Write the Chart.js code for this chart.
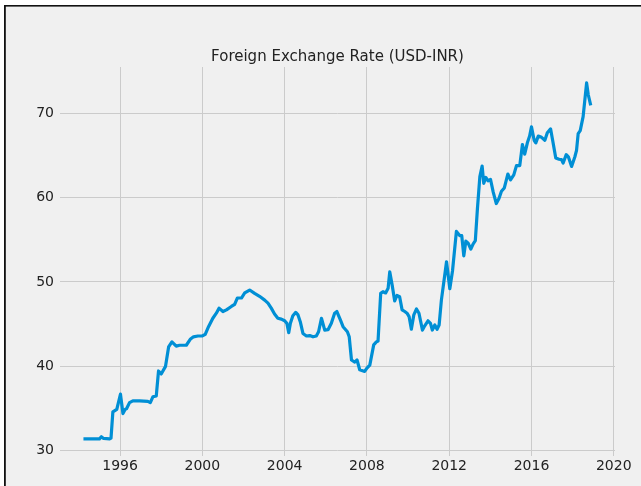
<!DOCTYPE html>
<html>
<head>
<meta charset="utf-8">
<script src="https://cdn.jsdelivr.net/npm/chart.js@4"></script>
<style>
  html, body { margin: 0; padding: 0; background: #ffffff; }
  #wrap { position: absolute; left: 0; top: 0; width: 641px; height: 486px; }
</style>
</head>
<body>
<div id="wrap"><canvas id="c" width="641" height="486"></canvas></div>
<script>
const chartTitle = "Foreign Exchange Rate (USD-INR)";

const years = [
  1994.22, 1994.61, 1995.00, 1995.09, 1995.20, 1995.49, 1995.56, 1995.65, 1995.84,
  1996.02, 1996.14, 1996.25, 1996.32, 1996.46, 1996.62, 1996.95, 1997.35, 1997.47,
  1997.60, 1997.76, 1997.87, 1998.00, 1998.21, 1998.36, 1998.52, 1998.73, 1998.89,
  1999.22, 1999.41, 1999.57, 1999.78, 2000.00, 2000.14, 2000.30, 2000.51, 2000.68,
  2000.81, 2001.00, 2001.17, 2001.41, 2001.57, 2001.70, 2001.90, 2002.06, 2002.30,
  2002.54, 2002.78, 2003.03, 2003.19, 2003.35, 2003.51, 2003.67, 2003.84, 2004.00,
  2004.11, 2004.20, 2004.28, 2004.40, 2004.54, 2004.65, 2004.76, 2004.89, 2005.06,
  2005.22, 2005.38, 2005.54, 2005.65, 2005.79, 2005.95, 2006.11, 2006.27, 2006.43,
  2006.54, 2006.71, 2006.84, 2007.05, 2007.14, 2007.25, 2007.41, 2007.52, 2007.65,
  2007.89, 2008.00, 2008.14, 2008.33, 2008.46, 2008.54, 2008.67, 2008.78, 2008.91,
  2009.03, 2009.11, 2009.24, 2009.35, 2009.46, 2009.59, 2009.71, 2009.84, 2009.95,
  2010.05, 2010.16, 2010.28, 2010.41, 2010.53, 2010.70, 2010.81, 2010.97, 2011.09,
  2011.18, 2011.30, 2011.41, 2011.51, 2011.62, 2011.75, 2011.87, 2012.03, 2012.16,
  2012.35, 2012.51, 2012.61, 2012.71, 2012.81, 2012.92, 2013.05, 2013.16, 2013.27,
  2013.37, 2013.49, 2013.60, 2013.68, 2013.78, 2013.89, 2014.01, 2014.14, 2014.29,
  2014.42, 2014.54, 2014.68, 2014.85, 2014.98, 2015.14, 2015.27, 2015.43, 2015.56,
  2015.67, 2015.80, 2015.91, 2016.00, 2016.13, 2016.21, 2016.33, 2016.49, 2016.65,
  2016.77, 2016.93, 2017.05, 2017.18, 2017.34, 2017.46, 2017.54, 2017.69, 2017.80,
  2017.95, 2018.11, 2018.19, 2018.27, 2018.37, 2018.51, 2018.68, 2018.76, 2018.88
];

const rates = [
  31.4, 31.4, 31.4, 31.65, 31.45, 31.4, 31.5, 34.6, 34.9,
  36.7, 34.4, 34.9, 35.0, 35.7, 35.9, 35.9, 35.85, 35.7,
  36.4, 36.5, 39.45, 39.1, 40.0, 42.3, 42.9, 42.4, 42.5,
  42.5, 43.2, 43.5, 43.6, 43.6, 43.8, 44.7, 45.7, 46.3,
  46.9, 46.5, 46.7, 47.1, 47.35, 48.1, 48.1, 48.7, 49.05,
  48.65, 48.3, 47.85, 47.5, 46.9, 46.2, 45.7, 45.6, 45.4,
  45.1, 44.0, 45.1, 46.0, 46.4, 46.1, 45.3, 43.9, 43.6,
  43.65, 43.5, 43.6, 44.1, 45.7, 44.3, 44.35, 45.1, 46.3,
  46.5, 45.5, 44.7, 44.1, 43.5, 40.75, 40.5, 40.75, 39.6,
  39.4, 39.8, 40.15, 42.55, 42.9, 43.0, 48.65, 48.85, 48.7,
  49.25, 51.2, 49.45, 47.75, 48.4, 48.25, 46.7, 46.5, 46.3,
  45.9, 44.4, 46.1, 46.8, 46.3, 44.3, 44.8, 45.4, 45.1,
  44.3, 44.9, 44.4, 44.9, 47.85, 50.2, 52.4, 49.2, 51.3,
  56.0, 55.5, 55.5, 53.1, 54.85, 54.6, 53.9, 54.5, 54.9,
  58.6, 62.5, 63.75, 61.7, 62.4, 62.0, 62.15, 60.65, 59.3,
  59.9, 60.75, 61.15, 62.8, 62.1, 62.7, 63.8, 63.8, 66.3,
  65.15, 66.5, 67.3, 68.4, 66.8, 66.5, 67.3, 67.15, 66.8,
  67.7, 68.15, 66.5, 64.7, 64.55, 64.5, 64.1, 65.1, 64.8,
  63.7, 64.85, 65.6, 67.6, 67.95, 69.6, 73.6, 72.2, 70.95
];

const xTickYears = [1996, 2000, 2004, 2008, 2012, 2016, 2020];
const yTickValues = [30, 40, 50, 60, 70];

const framePlugin = {
  id: 'frame',
  beforeDraw(chart) {
    const ctx = chart.ctx;
    ctx.save();
    ctx.fillStyle = '#ffffff';
    ctx.fillRect(0, 0, chart.width, chart.height);
    ctx.fillStyle = '#f0f0f0';
    ctx.fillRect(5, 6, chart.width - 5, chart.height - 6);
    ctx.fillStyle = '#111111';
    ctx.fillRect(4, 5, chart.width - 4, 1.6);
    ctx.fillRect(4, 5, 1.8, chart.height - 5);
    ctx.restore();
  }
};

new Chart(document.getElementById('c'), {
  type: 'line',
  data: {
    datasets: [{
      data: years.map((y, i) => ({ x: y, y: rates[i] })),
      borderColor: '#008fd5',
      borderWidth: 3.2,
      pointRadius: 0,
      tension: 0,
      fill: false,
      borderJoinStyle: 'round',
      borderCapStyle: 'butt'
    }]
  },
  plugins: [framePlugin],
  options: {
    responsive: false,
    animation: false,
    devicePixelRatio: 1,
    layout: { padding: { left: 0, right: 26, top: 0, bottom: 0 } },
    plugins: {
      legend: { display: false },
      tooltip: { enabled: false },
      title: {
        display: true,
        text: chartTitle,
        fullSize: false,
        color: '#222222',
        font: { family: 'DejaVu Sans', size: 15, weight: 'normal', lineHeight: 1.2 },
        padding: { top: 48.5, bottom: 0.5 }
      }
    },
    scales: {
      x: {
        type: 'linear',
        min: 1993.08,
        max: 2020.06,
        afterFit(scale) { scale.height = 30; },
        afterBuildTicks(scale) { scale.ticks = xTickYears.map(v => ({ value: v })); },
        grid: { color: '#cbcbcb', lineWidth: 1, drawTicks: false },
        border: { display: false },
        ticks: {
          padding: 2,
          color: '#222222',
          font: { family: 'DejaVu Sans', size: 14 },
          callback: v => String(v)
        }
      },
      y: {
        type: 'linear',
        min: 29.37,
        max: 75.49,
        afterFit(scale) { scale.width = 60; },
        afterBuildTicks(scale) { scale.ticks = yTickValues.map(v => ({ value: v })); },
        grid: { color: '#cbcbcb', lineWidth: 1, drawTicks: false },
        border: { display: false },
        ticks: {
          padding: 6,
          color: '#222222',
          font: { family: 'DejaVu Sans', size: 14 },
          callback: v => String(v)
        }
      }
    }
  }
});
</script>
</body>
</html>
